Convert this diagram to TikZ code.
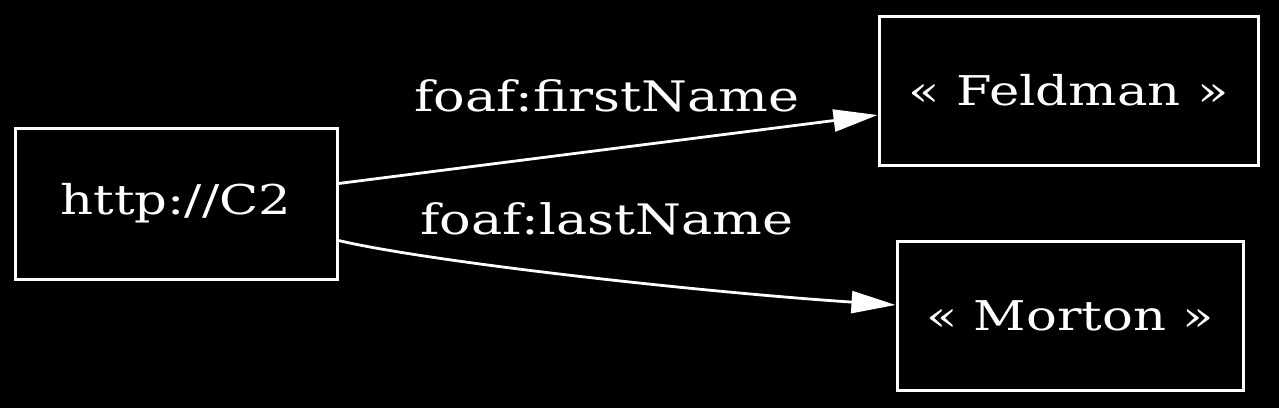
\documentclass[tikz,border=0pt]{standalone}
\usepackage{fontspec}
\setmainfont{DejaVu Serif}[FakeStretch=1.25]
\usetikzlibrary{arrows.meta}
\begin{document}
\begin{tikzpicture}[x=1pt,y=-1pt,
  box/.style={draw=white,line width=3pt,text=white,inner sep=0pt,font=\fontsize{41}{46}\selectfont},
  lbl/.style={text=white,inner sep=0pt,font=\fontsize{42}{47}\selectfont},
  edge/.style={draw=white,line width=2.8pt,-{Triangle[length=44pt,width=22pt]}}]
\fill[black] (0,0) rectangle (1279,408);
\useasboundingbox (0,0) rectangle (1279,408);
\node[box,minimum width=322pt,minimum height=151pt] (c2) at (176,203.5) {http://C2};
\node[box,minimum width=379pt,minimum height=149pt] (feld) at (1068.5,90.5) {« Feldman »};
\node[box,minimum width=346pt,minimum height=149pt] (mort) at (1070,315.5) {« Morton »};
\node[lbl] (l1) at (607,96) {foaf:firstName};
\node[lbl] (l2) at (607,219) {foaf:lastName};
\draw[edge] ([yshift=20pt]c2.east) -- ([yshift=-24.5pt]feld.west);
\draw[edge] ([yshift=-37pt]c2.east) .. controls (430,262) and (700,292) .. ([yshift=10.5pt]mort.west);
\end{tikzpicture}
\end{document}
